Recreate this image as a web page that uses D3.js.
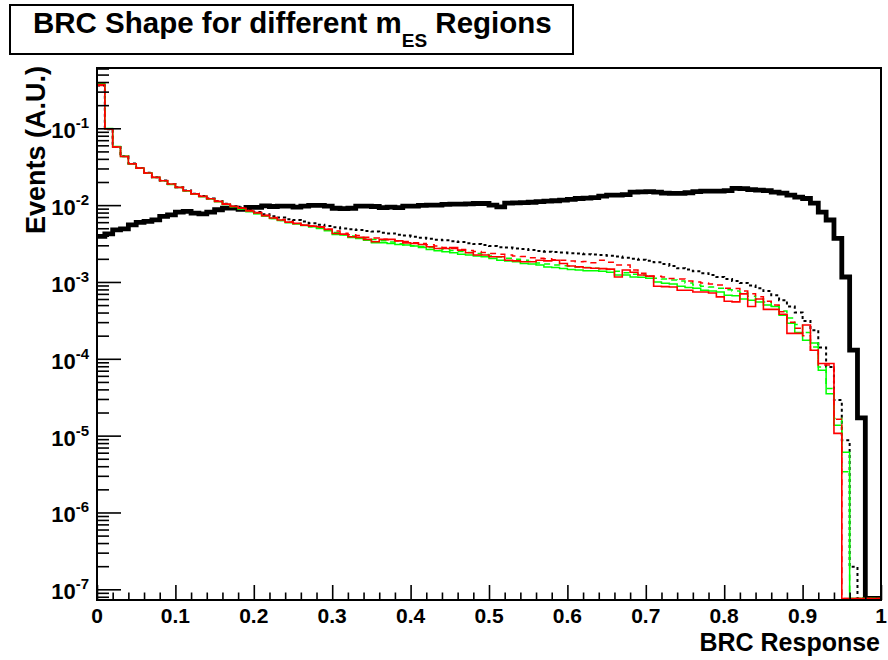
<!DOCTYPE html>
<html>
<head>
<meta charset="utf-8">
<script src="https://cdn.jsdelivr.net/npm/d3@7"></script>
<style>
  html, body { margin: 0; padding: 0; background: #fff; }
  svg { display: block; }
  text { font-family: "Liberation Sans", Arial, Helvetica, sans-serif; font-weight: bold; fill: #000; }
</style>
</head>
<body>
<svg id="chart" width="888" height="660"></svg>
<script>
// BRC response histograms, 100 bins over [0, 1]
const binLow = d3.range(100).map(i => i / 100);

const blackThick = [
  0.00391,0.00423,0.00477,0.00491,0.00554,0.00595,0.00613,0.00643,0.00713,0.00748,
  0.00811,0.0083,0.00787,0.0077,0.00811,0.0087,0.00914,0.00914,0.0088,0.00933,
  0.00933,0.0098,0.0096,0.0097,0.0097,0.0094,0.0097,0.0099,0.0099,0.0097,
  0.0091,0.009,0.0091,0.0097,0.0097,0.0096,0.0093,0.0094,0.0093,0.0097,
  0.0097,0.0099,0.01,0.01,0.0102,0.0103,0.0103,0.0104,0.0105,0.0105,
  0.01,0.0095,0.0106,0.0107,0.0108,0.0109,0.0111,0.0113,0.0114,0.0116,
  0.0119,0.0122,0.0123,0.0125,0.0131,0.0135,0.0135,0.0137,0.0148,0.0149,
  0.015,0.0148,0.0143,0.0142,0.0142,0.0145,0.015,0.0152,0.0152,0.0152,
  0.0154,0.0165,0.0164,0.0159,0.0157,0.0154,0.0148,0.0143,0.0135,0.0127,
  0.0122,0.0106,0.0081,0.0064,0.0037,0.00116,0.00013,0.000017,0,0
];

const blackDotted = [
  0.36,0.097,0.057,0.0432,0.0347,0.0305,0.0263,0.0231,0.0209,0.0189,
  0.0171,0.0155,0.0141,0.0131,0.0122,0.0113,0.0104,0.0097,0.0093,0.0087,
  0.00811,0.00763,0.00719,0.00688,0.00657,0.00638,0.0061,0.00583,0.00557,0.00533,
  0.00517,0.00498,0.00487,0.00473,0.00459,0.00452,0.00438,0.00428,0.00413,0.00401,
  0.00389,0.00377,0.00366,0.00355,0.0035,0.0034,0.0033,0.0032,0.00311,0.00302,
  0.00293,0.00284,0.0028,0.00272,0.00268,0.0026,0.00252,0.00248,0.00245,0.00241,
  0.00237,0.00234,0.0023,0.00227,0.00224,0.0022,0.00214,0.00207,0.00201,0.00195,
  0.00189,0.00181,0.00171,0.00161,0.00151,0.00145,0.00138,0.0013,0.00123,0.00116,
  0.00109,0.00103,0.00097,0.0009,0.00083,0.00076,0.00067,0.00058,0.00048,0.0004,
  0.00031,0.000236,0.00014,0.000078,0.000029,0.0000087,0.000000196,0,0,0
];

const greenSolid = [
  0.38,0.099,0.058,0.043,0.0345,0.0302,0.026,0.0229,0.0207,0.0186,
  0.0169,0.0153,0.0139,0.0129,0.012,0.0111,0.0102,0.0095,0.0089,0.0082,
  0.0077,0.0072,0.0067,0.0063,0.0059,0.00566,0.00544,0.00522,0.00497,0.00463,
  0.00416,0.00407,0.0038,0.00368,0.0035,0.00323,0.00323,0.00317,0.00308,0.00302,
  0.00293,0.00281,0.00265,0.00254,0.00247,0.0024,0.0023,0.00224,0.00217,0.00213,
  0.00202,0.00192,0.00187,0.00183,0.00174,0.00171,0.00166,0.00157,0.00154,0.0015,
  0.00145,0.00143,0.0014,0.0014,0.00138,0.00134,0.00123,0.00123,0.00116,0.00115,
  0.00112,0.001,0.00096,0.00094,0.00088,0.00085,0.00083,0.00078,0.00076,0.00074,
  0.00067,0.00066,0.0006,0.00058,0.00055,0.0005,0.00048,0.00037,0.00029,0.00022,
  0.000175,0.00016,0.000071,0.000035,0.0000137,0.0000061,0,0,0,0
];

const greenDashed = [
  0.375,0.098,0.057,0.0432,0.0345,0.0303,0.0261,0.023,0.0208,0.0187,
  0.017,0.0154,0.014,0.013,0.0121,0.0112,0.0103,0.0096,0.009,0.0083,
  0.0078,0.0072,0.0067,0.0063,0.006,0.00575,0.00549,0.00525,0.00502,0.00473,
  0.00439,0.00413,0.00395,0.00378,0.00366,0.00356,0.00345,0.0033,0.00315,0.00306,
  0.00297,0.00289,0.0028,0.00272,0.00264,0.00256,0.00249,0.00241,0.00234,0.00227,
  0.00217,0.00211,0.00204,0.00198,0.00192,0.00184,0.00176,0.00171,0.00166,0.00163,
  0.00161,0.00156,0.00154,0.00151,0.00149,0.00145,0.00138,0.00132,0.00126,0.00123,
  0.00119,0.00112,0.00109,0.00106,0.00103,0.00097,0.00091,0.00088,0.00086,0.00083,
  0.00079,0.00076,0.00072,0.00065,0.0006,0.00055,0.00049,0.00042,0.00034,0.00028,
  0.00022,0.000142,0.000078,0.000041,0.0000167,0.0000034,0,0,0,0
];

const redSolid = [
  0.37,0.098,0.057,0.043,0.0346,0.0304,0.0262,0.023,0.0208,0.0188,
  0.017,0.0154,0.014,0.013,0.0121,0.0112,0.0103,0.0096,0.0091,0.0084,
  0.0079,0.0073,0.0068,0.0064,0.006,0.00578,0.00549,0.00533,0.00522,0.00483,
  0.00428,0.00419,0.00387,0.0038,0.00358,0.00333,0.00358,0.00358,0.00343,0.00323,
  0.00317,0.00308,0.00287,0.00273,0.00273,0.00281,0.0026,0.0024,0.00224,0.00224,
  0.00213,0.00213,0.00192,0.00188,0.00183,0.00183,0.00192,0.00188,0.00192,0.00174,
  0.00161,0.00157,0.00153,0.00151,0.00149,0.00147,0.00116,0.00143,0.00134,0.00123,
  0.00119,0.00088,0.00087,0.00086,0.00078,0.00078,0.00074,0.00074,0.00072,0.00064,
  0.00056,0.00055,0.0007,0.00048,0.0006,0.00044,0.00044,0.00038,0.000214,0.000214,
  0.000275,0.000129,0.000087,0.000087,0.0000107,0,0,0,0,0
];

const redDashed = [
  0.36,0.097,0.057,0.043,0.0346,0.0303,0.0262,0.0231,0.0209,0.0189,
  0.0171,0.0155,0.0141,0.0131,0.0122,0.0113,0.0104,0.0097,0.0092,0.0085,
  0.008,0.0074,0.0069,0.0065,0.0061,0.00578,0.00549,0.00533,0.00517,0.00487,
  0.00459,0.00432,0.00413,0.00401,0.00383,0.00372,0.00361,0.00355,0.00345,0.00335,
  0.00325,0.00316,0.00306,0.00293,0.0028,0.00272,0.00264,0.00256,0.00249,0.00241,
  0.00235,0.0023,0.00224,0.00217,0.00214,0.00207,0.00204,0.00201,0.00195,0.00192,
  0.00187,0.00183,0.00184,0.00178,0.00192,0.00181,0.00166,0.00166,0.00143,0.0013,
  0.00119,0.00119,0.00116,0.00111,0.00109,0.00103,0.001,0.00097,0.00094,0.00091,
  0.00083,0.00082,0.00076,0.0007,0.00064,0.00056,0.0005,0.00041,0.0003,0.00025,
  0.0002,0.000129,0.000083,0.000083,0.0000164,0,0,0,0,0
];

const xTickLabels = ["0","0.1","0.2","0.3","0.4","0.5","0.6","0.7","0.8","0.9","1"];
const yDecadeExponents = [-1,-2,-3,-4,-5,-6,-7];

// drawing order and line styles
const series = [
  { values: blackThick,  color: "#000000", width: 4.8, dash: null },
  { values: blackDotted, color: "#000000", width: 2,   dash: "3,3" },
  { values: greenSolid,  color: "#00ff00", width: 1.5, dash: null },
  { values: greenDashed, color: "#00ff00", width: 1.5, dash: "6,5" },
  { values: redSolid,    color: "#ff0000", width: 1.6, dash: null },
  { values: redDashed,   color: "#ff0000", width: 1.5, dash: "6,5" }
];

const frame = { left: 97, right: 881, top: 68, bottom: 600 };
const svg = d3.select("#chart");

const x = d3.scaleLinear().domain([0, 1]).range([frame.left, frame.right]);
const y = d3.scaleLog().domain([7.26e-8, 0.609]).range([frame.bottom, frame.top]);

svg.append("defs").append("clipPath").attr("id", "plotClip")
  .append("rect")
  .attr("x", frame.left).attr("y", frame.top)
  .attr("width", frame.right - frame.left).attr("height", frame.bottom - frame.top + 1);

// step outline of a histogram; empty bins sit on the lower frame edge
const step = d3.line()
  .x(d => x(d[0]))
  .y(d => d[1] > 0 ? y(d[1]) : frame.bottom - 1.5)
  .curve(d3.curveStepAfter);

const plot = svg.append("g").attr("clip-path", "url(#plotClip)");
series.forEach(s => {
  const pts = binLow.map((b, i) => [b, s.values[i]]);
  pts.push([1, s.values[s.values.length - 1]]);
  plot.append("path")
    .attr("d", step(pts))
    .attr("fill", "none")
    .attr("stroke", s.color)
    .attr("stroke-width", s.width)
    .attr("stroke-dasharray", s.dash)
    .attr("stroke-linejoin", "miter");
});

// y axis: log ticks pointing into the frame
const yMajor = yDecadeExponents.map(e => Math.pow(10, e));
const yMinor = [];
for (let e = -8; e <= -1; e++) {
  for (let m = 2; m <= 9; m++) {
    const v = m * Math.pow(10, e);
    if (v >= y.domain()[0] && v <= y.domain()[1]) yMinor.push(v);
  }
}
function tickAxis(gen, size, values, tx, ty) {
  const g = svg.append("g").attr("transform", `translate(${tx},${ty})`)
    .call(gen.tickValues(values).tickSize(size).tickFormat(""));
  g.select(".domain").remove();
  g.selectAll(".tick line").attr("stroke", "#000").attr("stroke-width", 1.6);
  return g;
}
tickAxis(d3.axisLeft(y), -24, yMajor, frame.left, 0);
tickAxis(d3.axisLeft(y), -12, yMinor, frame.left, 0);

// x axis ticks
const xMajor = xTickLabels.map(Number);
const xMinor = d3.range(0, 50).map(i => i * 0.02).filter(v => Math.abs(v * 10 - Math.round(v * 10)) > 1e-6);
tickAxis(d3.axisBottom(x), -15, xMajor, 0, frame.bottom);
tickAxis(d3.axisBottom(x), -7.5, xMinor, 0, frame.bottom);

// frame
svg.append("rect")
  .attr("x", frame.left).attr("y", frame.top)
  .attr("width", frame.right - frame.left).attr("height", frame.bottom - frame.top)
  .attr("fill", "none").attr("stroke", "#000").attr("stroke-width", 2);

// y tick labels 10^k
yDecadeExponents.forEach(e => {
  const t = svg.append("text")
    .attr("x", 89).attr("y", y(Math.pow(10, e)) + 10)
    .attr("text-anchor", "end");
  t.append("tspan").attr("font-size", 22).text("10");
  t.append("tspan").attr("font-size", 15).attr("dy", -10).text(String(e));
});

// x tick labels
xTickLabels.forEach(lbl => {
  svg.append("text")
    .attr("x", x(Number(lbl))).attr("y", 623)
    .attr("text-anchor", "middle")
    .attr("font-size", 21)
    .text(lbl);
});

// axis titles
svg.append("text")
  .attr("x", frame.right - 1).attr("y", 651)
  .attr("text-anchor", "end")
  .attr("font-size", 25)
  .text("BRC Response");

svg.append("text")
  .attr("transform", "translate(45,66) rotate(-90)")
  .attr("text-anchor", "end")
  .attr("font-size", 27)
  .text("Events (A.U.)");

// title box
svg.append("rect")
  .attr("x", 10).attr("y", 5).attr("width", 563).attr("height", 49)
  .attr("fill", "#fff").attr("stroke", "#000").attr("stroke-width", 2);

const title = svg.append("text").attr("x", 33).attr("y", 33).attr("font-size", 29.5);
title.append("tspan").text("BRC Shape for different m");
title.append("tspan").attr("font-size", 19).attr("dy", 14).text("ES");
title.append("tspan").attr("dy", -14).text(" Regions");
</script>
</body>
</html>
